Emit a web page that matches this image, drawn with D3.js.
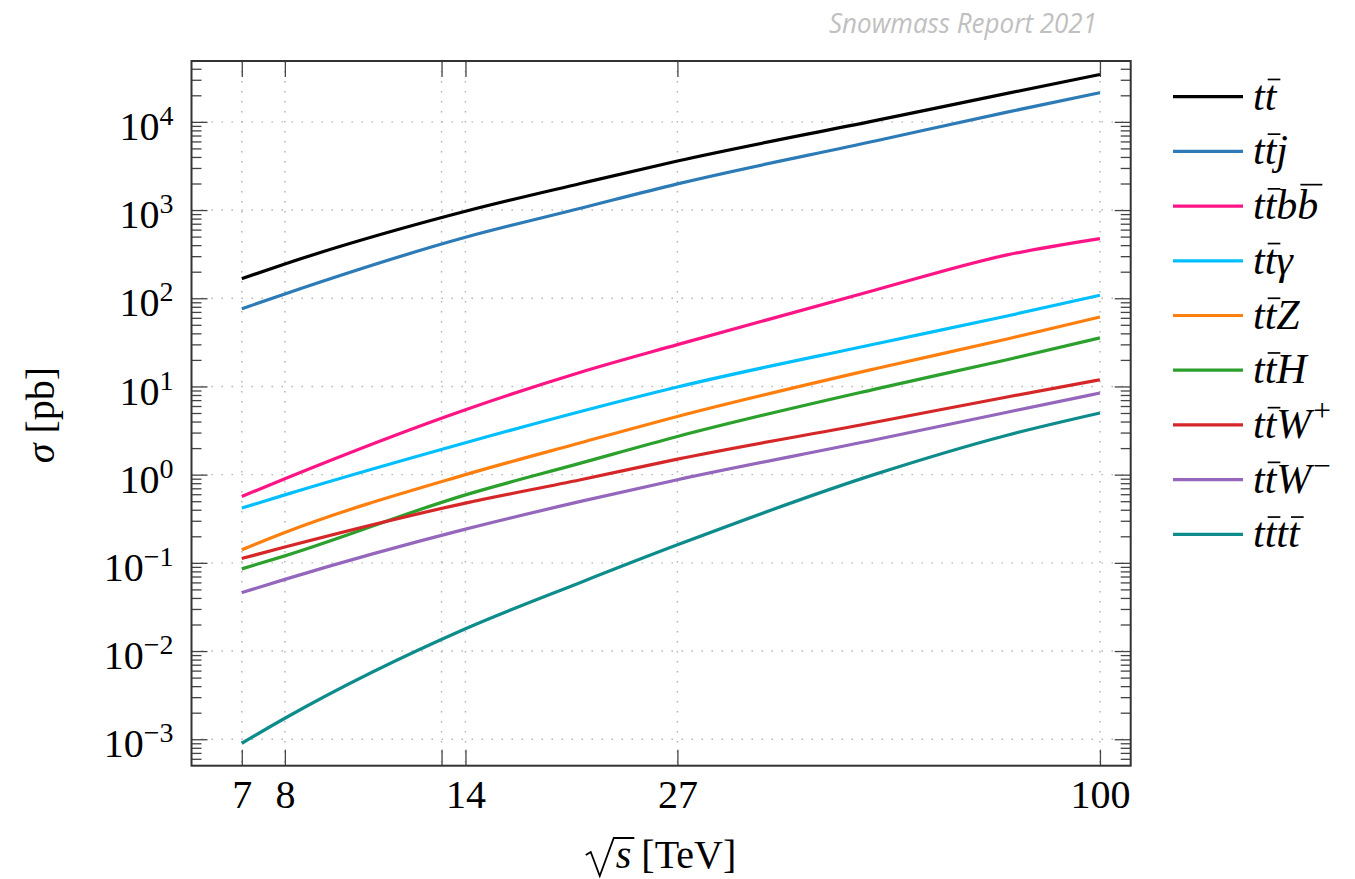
<!DOCTYPE html>
<html>
<head>
<meta charset="utf-8">
<script src="https://cdn.jsdelivr.net/npm/d3@7"></script>
<style>
  body { margin: 0; background: #fff; }
  .serif { font-family: "Liberation Serif", "DejaVu Serif", serif; }
</style>
</head>
<body>
<svg id="chart" width="1355" height="879"></svg>
<script>
const energies = [7, 8, 14, 20, 27, 50, 75, 100];

// x ticks (13 TeV has a tick but no label)
const xTicks = [7, 8, 13, 14, 27, 100];
const xTickLabels = ['7', '8', '', '14', '27', '100'];

// y decades, 10^-3 .. 10^4
const yDecades = [-3, -2, -1, 0, 1, 2, 3, 4];

// cross sections in pb
const ttbar   = [167, 245, 968, 2000, 3600, 10400, 21000, 34400];
const ttj     = [76, 112, 491, 1047, 1980, 6100, 12900, 21400];
const ttbb    = [0.566, 0.90, 5.45, 14.5, 29.8, 125, 310, 475];
const ttgamma = [0.418, 0.59, 2.3, 5.2, 9.86, 30.5, 63, 108];
const ttZ     = [0.141, 0.221, 1.0, 2.3, 4.57, 16, 34.5, 61.4];
const ttH     = [0.0855, 0.12, 0.59, 1.35, 2.71, 9.4, 20.1, 35.5];
const ttWp    = [0.112, 0.151, 0.476, 0.875, 1.50, 3.95, 7.6, 11.9];
const ttWm    = [0.046, 0.065, 0.241, 0.497, 0.875, 2.5, 5.1, 8.43];
const tttt    = [0.0009, 0.00173, 0.0179, 0.06, 0.160, 1.02, 2.8, 5.0];

// legend labels: '~' puts a bar on the previous letter, '^' raises the next char
const seriesLabels = ['tt~', 'tt~j', 'tt~bb~', 'tt~γ', 'tt~Z', 'tt~H', 'tt~W^+', 'tt~W^−', 'tt~tt~'];
const seriesColors = ['#000000', '#2c7bb6', '#ff1485', '#00bfff', '#ff7f0e', '#2ca02c', '#d62728', '#9467bd', '#0e8c8c'];
const seriesValues = [ttbar, ttj, ttbb, ttgamma, ttZ, ttH, ttWp, ttWm, tttt];

const svg = d3.select('#chart');

const box = { left: 191.5, right: 1130.7, top: 61, bottom: 765.7 };

const x = d3.scaleLog().domain([5.99, 110]).range([box.left, box.right]);
const y = d3.scaleLog().domain([Math.pow(10, -3.3), Math.pow(10, 4.69)]).range([box.bottom, box.top]);

const majorY = yDecades.map(d => Math.pow(10, d));
const minorY = [];
for (let d = -4; d <= 4; d++) {
  for (let k = 2; k <= 9; k++) {
    const v = k * Math.pow(10, d);
    if (v > y.domain()[0] && v < y.domain()[1]) minorY.push(v);
  }
}

// dotted grid
const grid = svg.append('g').attr('class', 'grid')
  .attr('stroke', '#b0b0b0')
  .attr('stroke-width', 1.4)
  .attr('stroke-dasharray', '1.4,8.6');

grid.selectAll('.gy').data(majorY).join('line')
  .attr('x1', box.left).attr('x2', box.right)
  .attr('y1', d => y(d)).attr('y2', d => y(d));

grid.selectAll('.gx').data(xTicks).join('line')
  .attr('x1', d => x(d)).attr('x2', d => x(d))
  .attr('y1', box.top).attr('y2', box.bottom);

// axes (ticks point inward, mirrored on all four sides)
function styleAxis(g) {
  g.select('.domain').remove();
  g.selectAll('.tick line').attr('stroke', '#444').attr('stroke-width', 1.3);
  g.selectAll('.tick text')
    .attr('class', 'serif')
    .attr('font-size', 40)
    .attr('fill', '#000');
}

svg.append('g')
  .attr('transform', `translate(0,${box.bottom})`)
  .call(d3.axisBottom(x).tickValues(xTicks).tickSizeInner(-16).tickSizeOuter(0).tickPadding(14)
    .tickFormat((d, i) => xTickLabels[i]))
  .call(styleAxis);

svg.append('g')
  .attr('transform', `translate(0,${box.top})`)
  .call(d3.axisTop(x).tickValues(xTicks).tickSizeInner(-16).tickSizeOuter(0).tickFormat(''))
  .call(styleAxis);

const yLeft = svg.append('g')
  .attr('transform', `translate(${box.left},0)`)
  .call(d3.axisLeft(y).tickValues(majorY).tickSizeInner(-16).tickSizeOuter(0).tickPadding(18))
  .call(styleAxis);

yLeft.selectAll('.tick text').each(function(d) {
  const t = d3.select(this);
  const e = Math.round(Math.log10(d));
  t.text(null).attr('dy', '0.44em');
  t.append('tspan').text('10');
  t.append('tspan').attr('dy', -15).attr('font-size', 28).text(e < 0 ? '−' + (-e) : String(e));
});

svg.append('g')
  .attr('transform', `translate(${box.left},0)`)
  .call(d3.axisLeft(y).tickValues(minorY).tickSizeInner(-10).tickSizeOuter(0).tickFormat(''))
  .call(styleAxis);

svg.append('g')
  .attr('transform', `translate(${box.right},0)`)
  .call(d3.axisRight(y).tickValues(majorY).tickSizeInner(-16).tickSizeOuter(0).tickFormat(''))
  .call(styleAxis);

svg.append('g')
  .attr('transform', `translate(${box.right},0)`)
  .call(d3.axisRight(y).tickValues(minorY).tickSizeInner(-10).tickSizeOuter(0).tickFormat(''))
  .call(styleAxis);

// frame
svg.append('rect')
  .attr('x', box.left).attr('y', box.top)
  .attr('width', box.right - box.left).attr('height', box.bottom - box.top)
  .attr('fill', 'none')
  .attr('stroke', '#333')
  .attr('stroke-width', 2);

// curves
const line = d3.line()
  .x(d => x(d.e))
  .y(d => y(d.v))
  .curve(d3.curveMonotoneX);

svg.append('g').attr('class', 'curves')
  .selectAll('path')
  .data(seriesValues.map((vals, i) => ({ color: seriesColors[i], pts: energies.map((e, j) => ({ e, v: vals[j] })) })))
  .join('path')
  .attr('d', d => line(d.pts))
  .attr('fill', 'none')
  .attr('stroke', d => d.color)
  .attr('stroke-width', 3.2)
  .attr('stroke-linejoin', 'round');

// math-ish label writer
function writeMath(g, str, xPos, yPos, size) {
  const parts = [];
  for (let i = 0; i < str.length; i++) {
    const c = str[i];
    if (c === '~') { parts[parts.length - 1].bar = true; continue; }
    if (c === '^') { parts.push({ c: str[i + 1], sup: true }); i++; continue; }
    parts.push({ c });
  }
  const t = g.append('text')
    .attr('class', 'serif')
    .attr('x', xPos).attr('y', yPos)
    .attr('font-size', size);
  let raised = false;
  parts.forEach(p => {
    const s = t.append('tspan').text(p.c);
    if (p.sup) {
      s.attr('font-size', size * 0.75).attr('dx', 2).attr('dy', raised ? 0 : -size * 0.4);
      raised = true;
    } else {
      s.attr('font-style', 'italic');
      if (raised) { s.attr('dy', size * 0.4); raised = false; }
    }
  });
  const node = t.node();
  parts.forEach((p, i) => {
    if (!p.bar) return;
    const ext = node.getExtentOfChar(i);
    const lift = p.c === 'b' ? 0.82 : 0.72;
    g.append('line')
      .attr('x1', ext.x + 3).attr('x2', ext.x + ext.width + 4)
      .attr('y1', yPos - size * lift).attr('y2', yPos - size * lift)
      .attr('stroke', '#000').attr('stroke-width', 1.7);
  });
}

// legend
const legend = svg.append('g').attr('class', 'legend');
seriesLabels.forEach((lab, i) => {
  const ly = 96.7 + i * 54.7;
  legend.append('line')
    .attr('x1', 1173).attr('x2', 1243)
    .attr('y1', ly).attr('y2', ly)
    .attr('stroke', seriesColors[i])
    .attr('stroke-width', 3.2);
  writeMath(legend, lab, 1253, ly + 13, 42);
});

// y label
svg.append('text')
  .attr('class', 'serif')
  .attr('transform', 'translate(54,415) rotate(-90)')
  .attr('text-anchor', 'middle')
  .attr('font-size', 40)
  .call(t => {
    t.append('tspan').attr('font-style', 'italic').text('σ');
    t.append('tspan').text(' [pb]');
  });

// x label: sqrt(s) [TeV]
const xl = svg.append('g');
const xlText = xl.append('text')
  .attr('class', 'serif')
  .attr('y', 868)
  .attr('font-size', 40);
xlText.append('tspan').attr('font-style', 'italic').text('s');
xlText.append('tspan').text(' [TeV]');
const radW = 30;
const textW = xlText.node().getComputedTextLength();
const startX = 661 - (radW + textW) / 2;
xlText.attr('x', startX + radW);
const sExt = xlText.node().getExtentOfChar(0);
const base = 868;
xl.append('path')
  .attr('d', `M${startX},${base - 13} L${startX + 5},${base - 16} L${startX + 14},${base + 8} L${startX + radW - 2},${base - 30} L${sExt.x + sExt.width + 3},${base - 30}`)
  .attr('fill', 'none')
  .attr('stroke', '#000')
  .attr('stroke-width', 1.8)
  .attr('stroke-linejoin', 'miter');

// watermark
svg.append('text')
  .attr('x', 1097).attr('y', 33)
  .attr('text-anchor', 'end')
  .style('font-family', '"Open Sans", sans-serif')
  .style('font-style', 'italic')
  .attr('font-size', 28)
  .attr('fill', '#c0c0c0')
  .attr('textLength', 268)
  .attr('lengthAdjust', 'spacingAndGlyphs')
  .text('Snowmass Report 2021');
</script>
</body>
</html>
